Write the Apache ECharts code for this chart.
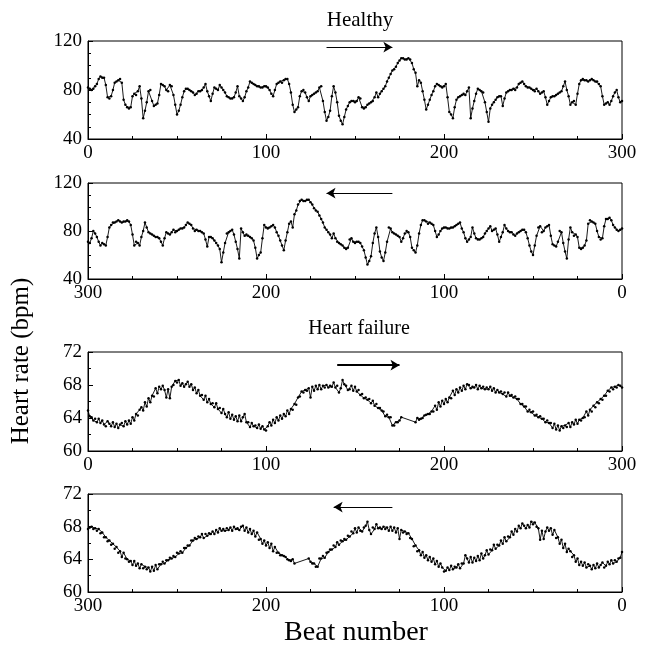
<!DOCTYPE html>
<html>
<head>
<meta charset="utf-8">
<script src="https://cdn.jsdelivr.net/npm/echarts@6/dist/echarts.min.js"></script>
<style>html,body{margin:0;padding:0;background:#fff}#c{width:646px;height:648px}</style>
</head>
<body>
<div id="c"></div>
<script>
// Heart rate (bpm) per beat, beats 0..300
const healthyHR = [
82,81,80,81,83,85,89,91,90,90,
84,74,73,75,80,86,87,88,89,86,
72,68,66,65,66,75,77,76,79,83,
73,57,63,70,79,80,71,67,68,69,
76,85,84,83,80,79,84,83,76,68,
60,63,68,74,79,81,81,80,79,78,
76,77,79,79,80,82,85,79,75,71,
77,82,81,80,84,82,80,78,75,74,
73,73,74,78,83,75,73,71,74,79,
82,87,86,85,84,83,83,82,82,83,
83,82,80,77,75,80,85,86,87,86,
88,89,89,85,78,68,62,64,66,75,
79,80,78,74,71,75,76,77,78,79,
82,83,71,62,55,58,63,75,83,78,
70,59,55,52,58,64,67,70,71,71,
70,71,74,73,66,65,66,68,69,70,
71,74,78,74,77,79,81,83,87,90,
93,96,97,99,102,104,106,106,105,105,
106,105,102,97,94,83,88,86,79,72,
64,68,72,76,79,83,85,84,83,82,
83,85,74,62,60,57,66,72,74,75,
76,77,76,79,82,57,65,71,77,81,
80,79,78,70,62,54,65,68,70,72,
74,75,75,67,73,78,79,80,80,81,
80,82,85,86,87,85,83,82,82,81,
80,79,81,79,77,78,79,74,68,71,
74,75,75,76,77,78,79,83,87,80,
75,68,70,71,68,77,85,88,89,88,
88,87,88,89,88,87,87,85,83,75,
68,69,70,68,71,75,78,80,74,70,71
];
const failureHR = [
64.9,64.2,64.1,63.7,63.9,63.5,63.9,63.4,63.7,63.2,
63.0,63.6,63.3,63.0,63.5,62.9,63.3,62.8,63.2,63.4,
63.0,63.6,63.2,63.7,63.3,64.1,63.7,64.5,64.3,65.0,
65.3,64.9,65.9,65.4,66.4,65.9,66.7,66.6,67.6,67.0,
67.8,67.5,67.9,67.4,66.5,67.5,66.4,67.8,68.0,68.5,
68.3,68.6,67.9,68.2,67.8,68.1,68.4,67.8,68.1,67.4,
67.7,67.0,67.4,66.7,66.8,66.2,66.7,65.9,66.3,65.7,
65.8,65.3,65.8,65.1,65.2,64.6,65.1,64.5,64.1,64.7,
63.9,64.4,63.8,64.2,63.6,64.3,63.6,64.1,64.5,63.5,
63.5,62.9,63.4,63.0,63.1,62.8,63.2,62.7,63.0,62.6,
62.5,63.0,63.5,63.1,63.8,63.4,64.1,63.7,64.3,63.9,
64.5,64.2,64.9,64.5,65.1,65.0,65.7,65.6,66.5,66.6,
67.2,67.1,67.4,67.3,67.6,66.5,67.8,67.3,67.9,67.5,
68.0,67.5,67.9,67.7,68.0,67.7,67.9,67.8,68.3,67.7,
67.9,67.1,67.6,68.6,68.1,67.9,67.4,67.5,67.9,67.3,
67.8,67.2,67.4,66.8,66.9,66.4,66.5,66.2,66.3,65.8,
66.1,65.5,65.7,65.2,65.2,64.9,64.8,64.2,64.4,64.1,
64.1,63.1,63.1,63.5,63.5,63.7,64.1,null,null,null,
null,null,null,null,63.5,64.0,63.8,63.9,64.0,64.3,
64.4,64.5,64.5,64.8,64.8,65.5,65.0,65.9,65.4,66.1,
65.7,66.3,65.9,66.5,66.4,67.3,66.8,67.5,67.1,67.7,
67.3,67.9,67.5,68.1,68.0,67.6,67.8,67.7,68.0,67.5,
67.9,67.6,67.8,67.5,67.7,67.5,67.8,67.3,67.6,67.1,
67.4,67.1,67.2,66.9,67.1,66.6,67.1,66.7,66.8,66.5,
66.6,66.3,66.3,65.7,65.7,65.4,65.4,64.8,65.0,64.7,
64.8,64.3,64.4,64.1,64.2,63.9,63.9,63.5,63.7,63.4,
63.4,62.8,63.3,62.6,63.1,62.5,63.0,62.8,63.1,62.9,
63.4,62.9,63.5,63.2,63.8,63.3,63.8,63.7,64.0,64.1,
64.8,64.3,65.0,64.8,65.5,65.3,65.9,65.8,66.3,66.2,
66.7,66.7,67.3,67.2,67.7,67.5,67.8,67.7,68.0,67.9,67.7
];
const panelTitles = ['Healthy', 'Heart failure'];
const yTitle = 'Heart rate (bpm)';
const xTitle = 'Beat number';

const FONT = '"Liberation Serif", "DejaVu Serif", serif';
const chart = echarts.init(document.getElementById('c'), null, {renderer: 'canvas'});

const grids = [
  {left: 88, top: 41, width: 534, height: 98},
  {left: 88, top: 183, width: 534, height: 96},
  {left: 88, top: 352, width: 534, height: 99},
  {left: 88, top: 494, width: 534, height: 98}
];
const yCfg = [
  {min: 40, max: 120, interval: 40, split: 4},
  {min: 40, max: 120, interval: 40, split: 4},
  {min: 60, max: 72, interval: 4, split: 2},
  {min: 60, max: 72, interval: 4, split: 2}
];
const inverse = [false, true, false, true];
const dataSets = [healthyHR, healthyHR, failureHR, failureHR];
const arrows = [
  [[134, 115], [171, 115]],
  [[129, 111.5], [166, 111.5]],
  [[140, 70.4], [175, 70.4]],
  [[129, 70.4], [162, 70.4]]
];
const arrowWidth = [1, 1, 2, 1];

const xAxes = [], yAxes = [], series = [];
for (let i = 0; i < 4; i++) {
  xAxes.push({
    gridIndex: i, type: 'value', min: 0, max: 300, interval: 100, inverse: inverse[i],
    axisLine: {show: true, onZero: false, lineStyle: {color: '#000', width: 1}},
    axisTick: {show: true, inside: true, length: 5, lineStyle: {color: '#000'}},
    minorTick: {show: true, splitNumber: 4, length: 3, lineStyle: {color: '#000'}},
    splitLine: {show: false},
    axisLabel: {color: '#000', fontFamily: FONT, fontSize: 19, margin: 5}
  });
  yAxes.push({
    gridIndex: i, type: 'value', position: 'left', min: yCfg[i].min, max: yCfg[i].max, interval: yCfg[i].interval,
    axisLine: {show: true, onZero: false, lineStyle: {color: '#000', width: 1}},
    axisTick: {show: true, inside: true, length: 5, lineStyle: {color: '#000'}},
    minorTick: {show: true, splitNumber: yCfg[i].split, length: 3, lineStyle: {color: '#000'}},
    splitLine: {show: false},
    axisLabel: {color: '#000', fontFamily: FONT, fontSize: 19, margin: 6}
  });
  const d = dataSets[i].map((v, k) => [k, v]);
  series.push({
    type: 'line', xAxisIndex: i, yAxisIndex: i, data: d, connectNulls: true,
    symbol: 'circle', symbolSize: 2.5, showSymbol: true,
    itemStyle: {color: '#000'}, lineStyle: {color: '#000', width: 0.9},
    markLine: {
      silent: true, symbol: ['none', 'arrow'], symbolSize: [8, 9],
      label: {show: false},
      lineStyle: {color: '#000', width: arrowWidth[i], type: 'solid'},
      data: [[{coord: arrows[i][0]}, {coord: arrows[i][1]}]]
    }
  });
}

chart.setOption({
  animation: false,
  backgroundColor: '#fff',
  title: [
    {text: panelTitles[0], left: 355, top: 5, textAlign: 'center',
     textStyle: {fontFamily: FONT, fontSize: 21, fontWeight: 'normal', color: '#000'}},
    {text: panelTitles[1], left: 354, top: 314, textAlign: 'center',
     textStyle: {fontFamily: FONT, fontSize: 20, fontWeight: 'normal', color: '#000'}}
  ],
  grid: grids.map(g => Object.assign({show: true, borderColor: '#000', borderWidth: 1, backgroundColor: 'transparent'}, g)),
  xAxis: xAxes,
  yAxis: yAxes,
  series: series,
  graphic: [
    {type: 'text', x: 21, y: 361, rotation: Math.PI / 2,
     style: {text: yTitle, font: '25px ' + FONT, fill: '#000', align: 'center', verticalAlign: 'middle'}},
    {type: 'text', x: 356, y: 633,
     style: {text: xTitle, font: '28px ' + FONT, fill: '#000', align: 'center', verticalAlign: 'middle'}}
  ]
});
</script>
</body>
</html>
